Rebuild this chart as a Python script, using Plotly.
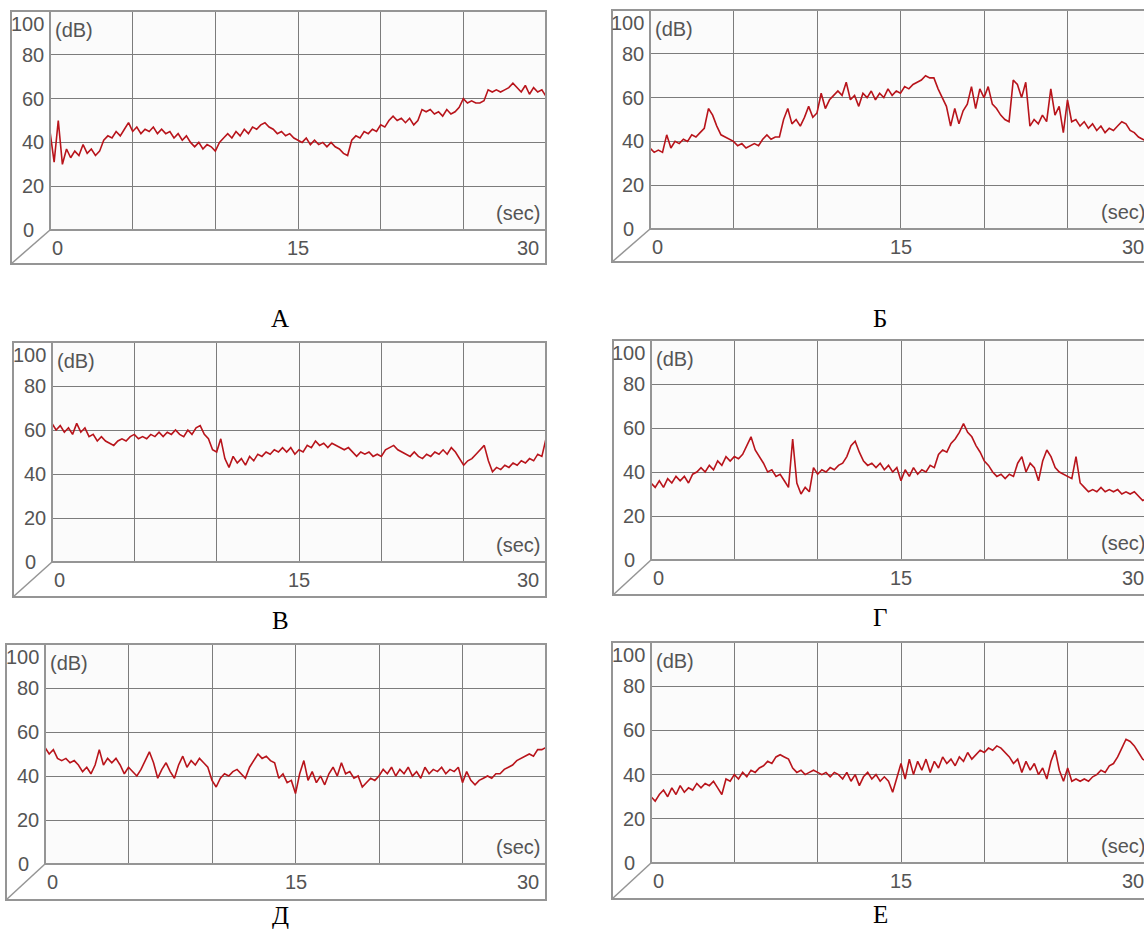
import plotly.graph_objects as go

# ---------------- data (dB every 0.25 s) ----------------
sample_step = 0.25
time_s = [round(k * sample_step, 2) for k in range(121)]

x_tick_labels = ["0", "15", "30"]
y_tick_labels = ["100", "80", "60", "40", "20", "0"]
y_tick_values = [100, 80, 60, 40, 20, 0]
panel_letters = ["А", "Б", "В", "Г", "Д", "Е"]

series_A = [45, 31, 50, 30, 37, 33, 36, 34, 39, 35, 37, 34, 36, 41, 43, 42, 45, 43, 46, 49,
            45, 47, 44, 46, 45, 47, 44, 46, 44, 45, 42, 44, 41, 43, 40, 38, 40, 37, 39, 38,
            36, 40, 42, 44, 42, 45, 43, 46, 44, 47, 46, 48, 49, 47, 46, 44, 45, 43, 44, 42,
            41, 40, 42, 39, 41, 39, 40, 38, 40, 38, 37, 35, 34, 41, 43, 42, 45, 44, 46, 45,
            48, 47, 50, 52, 50, 51, 49, 51, 48, 50, 55, 54, 55, 53, 54, 52, 55, 53, 54, 56,
            60, 58, 59, 58, 58, 59, 64, 63, 64, 63, 64, 65, 67, 65, 63, 66, 62, 65, 63, 64,
            61]

series_B = [37, 35, 36, 35, 43, 37, 40, 39, 41, 40, 43, 42, 44, 46, 55, 52, 47, 43, 42, 41,
            40, 38, 39, 37, 38, 39, 38, 41, 43, 41, 42, 42, 50, 55, 48, 50, 47, 51, 56, 51,
            53, 62, 55, 59, 61, 63, 61, 67, 59, 61, 56, 62, 60, 63, 59, 62, 60, 64, 61, 63,
            62, 65, 64, 66, 67, 68, 70, 69, 69, 64, 60, 56, 47, 55, 48, 54, 57, 65, 55, 64,
            60, 65, 57, 55, 52, 50, 49, 68, 66, 60, 67, 47, 50, 48, 52, 49, 64, 52, 56, 44,
            59, 49, 50, 47, 49, 46, 48, 45, 47, 44, 46, 45, 47, 49, 48, 45, 44, 42, 41, 40,
            39]

series_V = [63, 60, 62, 59, 61, 58, 63, 59, 61, 57, 58, 55, 57, 55, 54, 53, 55, 56, 55, 57,
            58, 56, 57, 56, 58, 57, 59, 57, 59, 58, 60, 58, 57, 60, 58, 61, 62, 58, 56, 51,
            50, 56, 47, 43, 48, 45, 47, 44, 48, 46, 49, 48, 50, 49, 51, 50, 52, 50, 52, 49,
            51, 50, 53, 52, 55, 53, 54, 52, 54, 53, 52, 51, 52, 50, 48, 50, 49, 50, 48, 49,
            48, 51, 52, 53, 51, 50, 49, 48, 50, 48, 47, 49, 48, 50, 49, 51, 49, 52, 50, 47,
            44, 46, 47, 49, 51, 53, 46, 41, 43, 42, 44, 43, 45, 44, 46, 45, 47, 46, 49, 48,
            56]

series_G = [35, 33, 36, 33, 37, 35, 38, 36, 38, 35, 39, 40, 42, 40, 43, 41, 45, 43, 47, 45,
            47, 46, 48, 52, 56, 50, 47, 44, 40, 41, 38, 39, 36, 33, 55, 35, 30, 33, 31, 42,
            39, 41, 40, 42, 41, 43, 44, 47, 52, 54, 49, 45, 43, 44, 42, 44, 41, 43, 40, 42,
            36, 41, 38, 42, 39, 41, 40, 43, 42, 48, 50, 49, 53, 55, 58, 62, 58, 56, 52, 49,
            45, 43, 40, 38, 39, 37, 39, 38, 44, 47, 40, 44, 42, 36, 45, 50, 47, 42, 40, 39,
            38, 37, 47, 35, 33, 31, 32, 31, 33, 31, 32, 31, 32, 30, 31, 30, 31, 29, 27, 28,
            27]

series_D = [53, 50, 52, 48, 47, 48, 46, 47, 45, 42, 44, 41, 45, 52, 45, 48, 46, 48, 45, 41,
            44, 42, 40, 43, 47, 51, 46, 39, 43, 46, 42, 39, 45, 49, 44, 47, 45, 48, 46, 44,
            38, 35, 39, 41, 40, 42, 43, 41, 39, 44, 47, 50, 48, 49, 47, 46, 39, 41, 37, 38,
            32, 41, 47, 38, 42, 37, 40, 36, 41, 44, 40, 46, 41, 42, 39, 40, 35, 37, 39, 38,
            40, 43, 41, 44, 40, 43, 41, 44, 40, 42, 39, 44, 41, 43, 42, 44, 41, 43, 42, 44,
            37, 42, 38, 36, 38, 39, 40, 39, 41, 41, 43, 44, 45, 47, 48, 49, 50, 49, 52, 52,
            53]

series_E = [30, 28, 31, 33, 30, 34, 31, 35, 32, 34, 33, 36, 34, 36, 35, 37, 34, 31, 38, 37,
            40, 38, 41, 39, 42, 41, 43, 44, 46, 45, 48, 49, 48, 47, 43, 41, 42, 40, 41, 42,
            41, 40, 41, 39, 41, 40, 38, 41, 37, 40, 35, 39, 41, 38, 40, 37, 39, 37, 32, 39,
            45, 38, 47, 40, 46, 42, 47, 41, 46, 43, 48, 45, 47, 44, 48, 46, 50, 47, 49, 51,
            50, 52, 51, 53, 52, 50, 48, 45, 47, 41, 46, 42, 45, 40, 43, 38, 46, 51, 42, 37,
            43, 37, 38, 37, 38, 37, 39, 40, 42, 41, 44, 45, 48, 52, 56, 55, 53, 50, 47, 46,
            45]

all_series = [series_A, series_B, series_V, series_G, series_D, series_E]

# ---------------- layout geometry (pixels) ----------------
W, H = 1144, 930
# frame_left, plot_left, plot_right, top, y0, bottom, letter_x, letter_y
geometry = [
    (11, 50, 546, 11, 230, 264, 280, 318),
    (612, 650, 1151, 10, 229, 262, 880, 318),
    (13, 52, 546, 342, 562, 597, 280, 620),
    (613, 651, 1151, 340, 560, 595, 880, 617),
    (6, 45, 546, 644, 864, 900, 280, 915),
    (612, 651, 1151, 642, 863, 899, 880, 914),
]


def px(x):
    return x / W


def py(y):
    return 1 - y / H


fig = go.Figure()
layout = dict(width=W, height=H, margin=dict(l=0, r=0, t=0, b=0),
              paper_bgcolor="white", plot_bgcolor="#fbfbfb", showlegend=False)
shapes = []
annotations = []

FRAME = "#959595"
GRID = "#7c7c7c"
TXT = "#555555"
FONT = "Liberation Sans, Arial, sans-serif"
FS = 20

for i, (vals, geo, letter) in enumerate(zip(all_series, geometry, panel_letters)):
    fl, pl, pr, top, y0, bot, lx, ly = geo
    n = i + 1
    xa = "xaxis" if n == 1 else f"xaxis{n}"
    ya = "yaxis" if n == 1 else f"yaxis{n}"
    xref = "x" if n == 1 else f"x{n}"
    yref = "y" if n == 1 else f"y{n}"
    vis_right = min(pr, W)
    xmax = 30 * (vis_right - pl) / (pr - pl)
    layout[xa] = dict(domain=[px(pl), px(vis_right)], range=[0, xmax], anchor=yref,
                      showgrid=True, gridcolor=GRID, gridwidth=1, dtick=5, tick0=0,
                      showticklabels=False, zeroline=False, showline=False, ticks="",
                      fixedrange=True)
    layout[ya] = dict(domain=[py(y0), py(top)], range=[0, 100], anchor=xref,
                      showgrid=True, gridcolor=GRID, gridwidth=1, dtick=20, tick0=0,
                      showticklabels=False, zeroline=False, showline=False, ticks="",
                      fixedrange=True)

    fig.add_trace(go.Scatter(x=time_s, y=vals, mode="lines", xaxis=xref, yaxis=yref,
                             line=dict(color="#b8141b", width=1.6), hoverinfo="skip"))

    # frame of the "box"
    shapes.append(dict(type="rect", xref="paper", yref="paper", x0=px(fl), x1=px(pr),
                       y0=py(bot), y1=py(top), line=dict(color=FRAME, width=2), layer="above"))
    shapes.append(dict(type="line", xref="paper", yref="paper", x0=px(pl), x1=px(pl),
                       y0=py(y0), y1=py(top), line=dict(color=FRAME, width=2), layer="above"))
    shapes.append(dict(type="line", xref="paper", yref="paper", x0=px(pl), x1=px(pr),
                       y0=py(y0), y1=py(y0), line=dict(color=FRAME, width=2), layer="above"))
    shapes.append(dict(type="line", xref="paper", yref="paper", x0=px(fl), x1=px(pl),
                       y0=py(bot), y1=py(y0), line=dict(color=FRAME, width=1.5), layer="above"))

    scale = (y0 - top) / 100.0
    # y tick labels
    for lab, v in zip(y_tick_labels, y_tick_values):
        ypix = y0 - v * scale
        xr = pl - 4
        if v == 100:
            ypix = top + 13
        if v == 0:
            xr = pl - 14
        annotations.append(dict(xref="paper", yref="paper", x=px(xr), y=py(ypix), text=lab,
                                showarrow=False, xanchor="right", yanchor="middle",
                                font=dict(family=FONT, size=FS, color=TXT)))
    # unit labels
    annotations.append(dict(xref="paper", yref="paper", x=px(pl + 3), y=py(top + 19), text="(dB)",
                            showarrow=False, xanchor="left", yanchor="middle",
                            font=dict(family=FONT, size=FS, color=TXT)))
    annotations.append(dict(xref="paper", yref="paper", x=px(pr - 4), y=py(y0 - 17), text="(sec)",
                            showarrow=False, xanchor="right", yanchor="middle",
                            font=dict(family=FONT, size=FS, color=TXT)))
    # x tick labels
    xs = [(pl + 7, "center"), (pl + (pr - pl) / 2, "center"), (pr - 5, "right")]
    for lab, (xp, anc) in zip(x_tick_labels, xs):
        annotations.append(dict(xref="paper", yref="paper", x=px(xp), y=py(y0 + 18), text=lab,
                                showarrow=False, xanchor=anc, yanchor="middle",
                                font=dict(family=FONT, size=FS, color=TXT)))
    # panel letter
    annotations.append(dict(xref="paper", yref="paper", x=px(lx), y=py(ly), text=letter,
                            showarrow=False, xanchor="center", yanchor="middle",
                            font=dict(family="Liberation Serif, Times New Roman, serif",
                                      size=25, color="black")))

layout["shapes"] = shapes
layout["annotations"] = annotations
fig.update_layout(**layout)
fig.write_html("out.html", config={"displayModeBar": False},
               post_script="document.body.style.margin='0px';document.body.style.overflow='hidden';")
